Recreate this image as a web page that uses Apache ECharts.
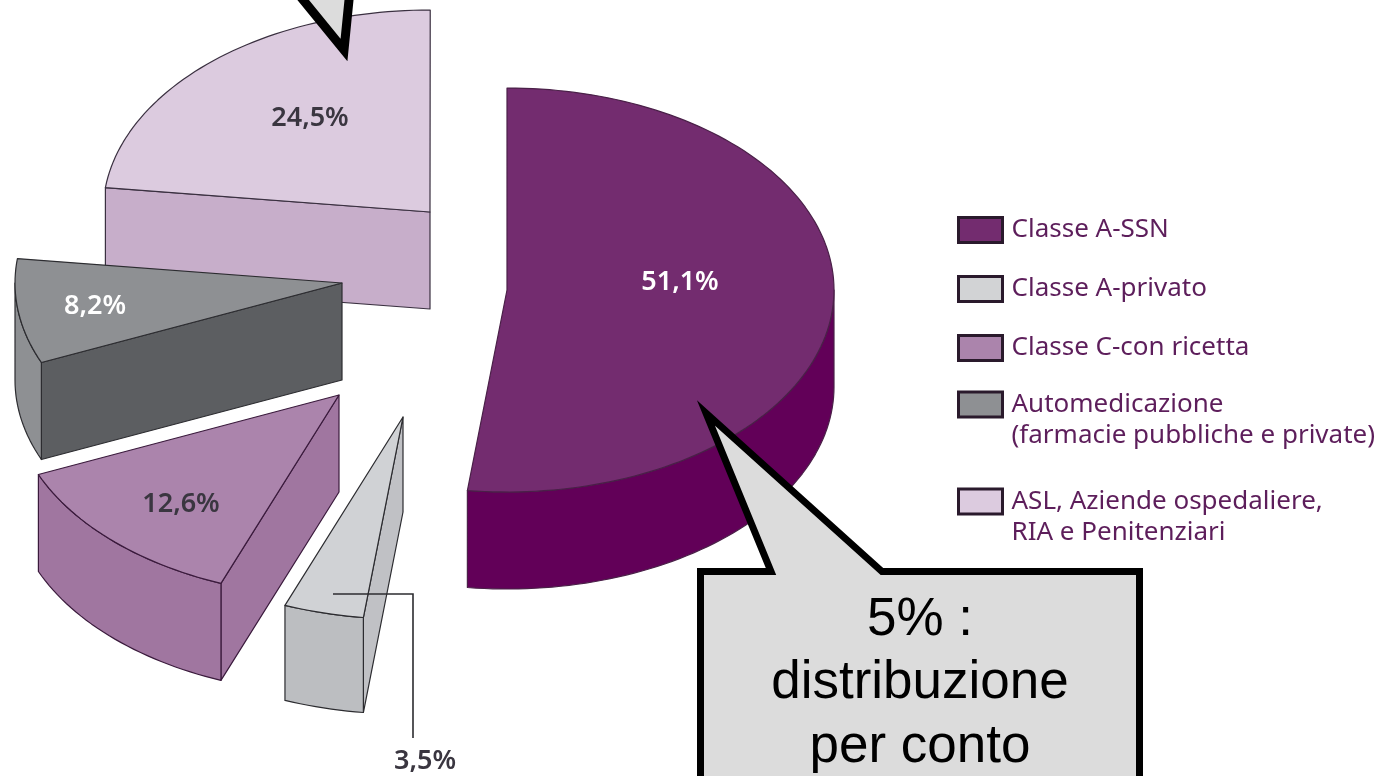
<!DOCTYPE html>
<html><head><meta charset="utf-8">
<style>html,body{margin:0;padding:0;background:#fff}#c{width:1380px;height:776px}</style>
<script src="https://cdn.jsdelivr.net/npm/echarts@6/dist/echarts.min.js"></script>
</head><body><div id="c"></div>
<script>
// Data: share of spending, clockwise from the top of the pie
const categories = ['Classe A-SSN','Classe A-privato','Classe C-con ricetta','Automedicazione\n(farmacie pubbliche e private)','ASL, Aziende ospedaliere,\nRIA e Penitenziari'];
const values = [51.1, 3.5, 12.6, 8.2, 24.5];
const labels = ['51,1%','3,5%','12,6%','8,2%','24,5%'];

// Appearance and layout, separate from the data
const topColors  = ['#732c6f','#d0d2d5','#ab84ac','#8e9093','#dccbdf'];
const rimColors  = ['#620058','#bcbec1','#a076a0','#8e9093','#c7aeca'];
const wallColors = ['#620058','#c0c1c5','#a076a0','#5c5e61','#c7aeca'];
const labelColors = ['#fff','#333','#3a3640','#fff','#3a3640'];
const strokeColors = ['#4a2048','#2c2c30','#3a1a3c','#2c2c30','#3a3040'];
const BASE = [400, 300], RX = 327, RY = 202;
const depths = [97, 95, 97, 97, 97];
const explode = [[107,-10],[3,117],[-61,95],[-58,-17],[30,-88]];
const labelOffset = [[173,-8],null,[-158,109],[-247,23],[-120,-94]];
const LABEL_FONT = '600 27px "Noto Sans"';
// The source drawing is slightly distorted by its perspective: small corrections to the edge angles
const edgeNudge = [0, 3, 4.6, 4.9, 5.5, 0.4];

const cumulative = [0];
values.forEach(v => cumulative.push(cumulative[cumulative.length-1] + v));

function pt(c, deg, dz) {
  const a = deg * Math.PI / 180;
  return [c[0] + RX * Math.sin(a), c[1] - RY * Math.cos(a) + (dz || 0)];
}
function arc(c, from, to, dz) {
  const pts = [], n = Math.max(2, Math.ceil(Math.abs(to - from) / 1.5));
  for (let k = 0; k <= n; k++) pts.push(pt(c, from + (to - from) * k / n, dz));
  return pts;
}
function renderSlice(params, api) {
  const i = params.seriesIndex;
  const value = api.value(0);
  const a0 = cumulative[i] * 3.6 + edgeNudge[i];
  const a1 = (cumulative[i] + value) * 3.6 + edgeNudge[i + 1];
  const c = [BASE[0] + explode[i][0], BASE[1] + explode[i][1]];
  const depth = depths[i];
  const stroke = strokeColors[i];
  const poly = (points, fill) => ({ type:'polygon', shape:{points}, style:{fill, stroke, lineWidth:1.2, lineJoin:'round'} });
  const children = [];
  // only cut faces turned towards the viewer are drawn
  [[a0, -1], [a1, 1]].forEach(([a, side]) => {
    if (side * Math.sin(a * Math.PI / 180) > 0.001) {
      children.push(poly([c, pt(c, a), pt(c, a, depth), [c[0], c[1] + depth]], wallColors[i]));
    }
  });
  const r0 = Math.max(a0, 90), r1 = Math.min(a1, 270);
  if (r1 > r0) {
    children.push(poly(arc(c, r0, r1, 0).concat(arc(c, r1, r0, depth)), rimColors[i]));
  }
  children.push(poly([c].concat(arc(c, a0, a1, 0)), topColors[i]));
  if (labelOffset[i]) {
    children.push({ type:'text', style:{
      x: c[0] + labelOffset[i][0], y: c[1] + labelOffset[i][1], text: labels[i],
      fill: labelColors[i], font: LABEL_FONT, textAlign:'center', textVerticalAlign:'middle'
    }});
  }
  return { type:'group', children };
}

const drawOrder = [4, 3, 2, 1, 0];
const legendCentres = [230, 289, 348, 406, 503];
const legendFills = ['#732c6f','#d2d3d5','#ab84ac','#8e9093','#dccbdf'];

const calloutFont = '53px "Liberation Sans"';
const option = {
  animation: false,
  backgroundColor: '#fff',
  legend: categories.map((name, i) => {
    const multi = name.indexOf('\n') >= 0;
    return {
      left: 957, top: legendCentres[i] - (multi ? 48 : 16) - 2, padding: 0, orient:'vertical',
      data: [{ name, icon:'rect' }], itemWidth: 44, itemHeight: 25, selectedMode:false,
      itemStyle: { color: legendFills[i], borderColor:'#2a1a2c', borderWidth:3 },
      formatter: n => multi ? '\n' + n : n,
      textStyle: { color:'#5d1e5b', fontFamily:'"Noto Sans"', fontSize:26, lineHeight: multi ? 31 : 32, padding:[4,0,0,4] }
    };
  }),
  graphic: [
    { type:'polyline', z:50, shape:{points:[[333,594],[413,594],[413,738]]}, style:{stroke:'#2c2c30', lineWidth:1.6, fill:null} },
    { type:'text', z:50, style:{x:425, y:761, text:labels[1], fill:'#3a3640', font:LABEL_FONT, textAlign:'center', textVerticalAlign:'middle'} },
    { type:'polygon', z:60, shape:{points:[[295,-10],[344,50],[350,-10]]}, style:{fill:'#dcdcdc', stroke:'#000', lineWidth:9, lineJoin:'miter', miterLimit:10} },
    { type:'polygon', z:60, shape:{points:[[700.5,800],[700.5,571.5],[771,571.5],[706,413],[882,571.5],[1139.5,571.5],[1139.5,800]]}, style:{fill:'#dcdcdc', stroke:'#000', lineWidth:7, lineJoin:'miter', miterLimit:10} },
    { type:'text', z:61, style:{x:920, y:620, text:'5% :', fill:'#000', font:calloutFont, textAlign:'center', textVerticalAlign:'middle'} },
    { type:'text', z:61, style:{x:920, y:683.5, text:'distribuzione', fill:'#000', font:calloutFont, textAlign:'center', textVerticalAlign:'middle'} },
    { type:'text', z:61, style:{x:920, y:747, text:'per conto', fill:'#000', font:calloutFont, textAlign:'center', textVerticalAlign:'middle'} }
  ],
  series: categories.map((name, i) => ({
    type:'custom', name, coordinateSystem:'none', clip:false, silent:true,
    z: 2 + drawOrder.indexOf(i),
    itemStyle:{ color: topColors[i] },
    data:[[values[i]]],
    renderItem: renderSlice
  }))
};
const chart = echarts.init(document.getElementById('c'), null, {renderer:'canvas'});
chart.setOption(option);
</script></body></html>
